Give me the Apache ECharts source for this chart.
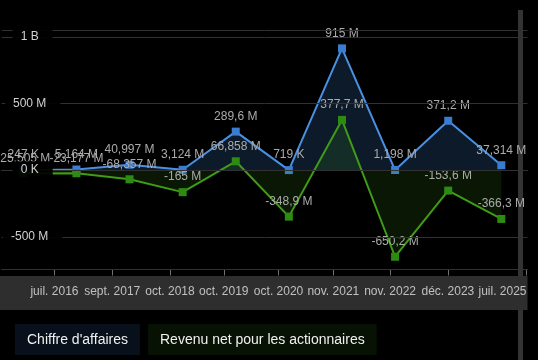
<!DOCTYPE html>
<html>
<head>
<meta charset="utf-8">
<script src="https://cdn.jsdelivr.net/npm/echarts@6/dist/echarts.min.js"></script>
<style>
html,body{margin:0;padding:0;background:#000;}
#c{width:538px;height:360px;}
</style>
</head>
<body>
<div id="c"></div>
<script>
// Data
const seriesNames = ["Chiffre d'affaires", "Revenu net pour les actionnaires"];
const revenue = [247e3, 5.164e6, 40.997e6, 3.124e6, 289.6e6, 719e3, 915e6, 1.198e6, 371.2e6, 37.314e6];
const netIncome = [-25.505e6, -23.177e6, -68.357e6, -165e6, 66.858e6, -348.9e6, 377.7e6, -650.2e6, -153.6e6, -366.3e6];
const dateLabels = ["juil. 2016", "sept. 2017", "oct. 2018", "oct. 2019", "oct. 2020", "nov. 2021", "nov. 2022", "déc. 2023", "juil. 2025"];
// positions of the date ticks, in units of the period index
const datePos = [0.587, 1.674, 2.762, 3.775, 4.806, 5.837, 6.906, 7.994, 9.475];

function fmtVal(v) {
  const a = Math.abs(v);
  if (a < 1e6) return Math.round(v / 1e3) + ' K';
  const m = v / 1e6;
  let s = a < 1e8 ? m.toFixed(3) : m.toFixed(1);
  if (s.indexOf('.') >= 0) s = s.replace(/0+$/, '').replace(/\.$/, '');
  return s.replace('.', ',') + ' M';
}
function fmtAxis(v) {
  if (v === 0) return '0 K';
  if (Math.abs(v) >= 1e9) return (v / 1e9) + ' B';
  return (v / 1e6) + ' M';
}

const chart = echarts.init(document.getElementById('c'), null, {renderer: 'canvas'});
const font = 'Liberation Sans, Arial, sans-serif';
chart.setOption({
  backgroundColor: '#000',
  animation: false,
  textStyle: {fontFamily: font},
  grid: {left: 0, right: 10.5, top: 30, bottom: 90.5, containLabel: false},
  xAxis: {
    type: 'value',
    min: -0.407,
    max: 9.493,
    splitLine: {show: false},
    axisLine: {show: true, onZero: false, lineStyle: {color: '#3a3a3a', width: 1}},
    axisTick: {show: true, customValues: datePos, length: 6, lineStyle: {color: '#707070'}},
    axisLabel: {
      customValues: datePos,
      color: '#c0c0c0',
      fontSize: 12,
      margin: 16,
      alignMaxLabel: 'right',
      formatter: function (v) {
        let best = 0, d = 1e9;
        datePos.forEach(function (p, i) { if (Math.abs(p - v) < d) { d = Math.abs(p - v); best = i; } });
        return dateLabels[best];
      }
    }
  },
  yAxis: {
    type: 'value',
    min: -746e6,
    max: 1053e6,
    splitNumber: 4,
    z: 10,
    axisLine: {show: false},
    axisTick: {show: false},
    splitLine: {show: true, lineStyle: {color: '#313131', width: 1}},
    axisLabel: {
      inside: true,
      align: 'center',
      margin: 31,
      color: '#d0d0d0',
      fontSize: 12,
      showMinLabel: false,
      showMaxLabel: false,
      backgroundColor: 'rgba(0,0,0,0.93)',
      padding: [3, 14, 3, 8],
      formatter: fmtAxis
    }
  },
  legend: [
    {
      data: [seriesNames[0]], left: 15, top: 324, icon: 'none', itemWidth: 0, itemHeight: 16,
      selectedMode: false, backgroundColor: '#08111b', padding: [8, 12, 8, 7],
      textStyle: {color: '#f0f0f0', fontSize: 14, fontFamily: font}
    },
    {
      data: [seriesNames[1]], left: 148, top: 324, icon: 'none', itemWidth: 0, itemHeight: 16,
      selectedMode: false, backgroundColor: '#071104', padding: [8, 12, 8, 7],
      textStyle: {color: '#f0f0f0', fontSize: 14, fontFamily: font}
    }
  ],
  graphic: [
    {type: 'rect', z: -20, shape: {x: 518, y: 10, width: 5, height: 350}, style: {fill: '#333333'}},
    {type: 'rect', z: -10, shape: {x: 0, y: 276, width: 527.5, height: 34}, style: {fill: '#2e2e2e'}}
  ],
  series: [
    {
      name: seriesNames[0],
      type: 'line',
      data: revenue.map(function (v, i) { return [i, v]; }),
      symbol: 'rect',
      symbolSize: 8,
      lineStyle: {color: '#4a90e2', width: 2},
      itemStyle: {color: '#3a7cd0'},
      areaStyle: {color: 'rgba(74,144,226,0.26)'},
      label: {show: true, position: 'top', color: '#ababab', fontSize: 12, formatter: function (p) { return fmtVal(p.value[1]); }},
      z: 2
    },
    {
      name: seriesNames[1],
      type: 'line',
      data: netIncome.map(function (v, i) { return [i, v]; }),
      symbol: 'rect',
      symbolSize: 8,
      lineStyle: {color: '#3f9c17', width: 2},
      itemStyle: {color: '#2e8b12'},
      areaStyle: {color: 'rgba(68,160,28,0.2)'},
      label: {show: true, position: 'top', color: '#ababab', fontSize: 12, formatter: function (p) { return fmtVal(p.value[1]); }},
      markLine: {
        silent: true, symbol: 'none', label: {show: false},
        lineStyle: {color: '#777', type: 'solid', width: 1},
        data: [{yAxis: 0}]
      },
      z: 3
    }
  ]
});
</script>
</body>
</html>
